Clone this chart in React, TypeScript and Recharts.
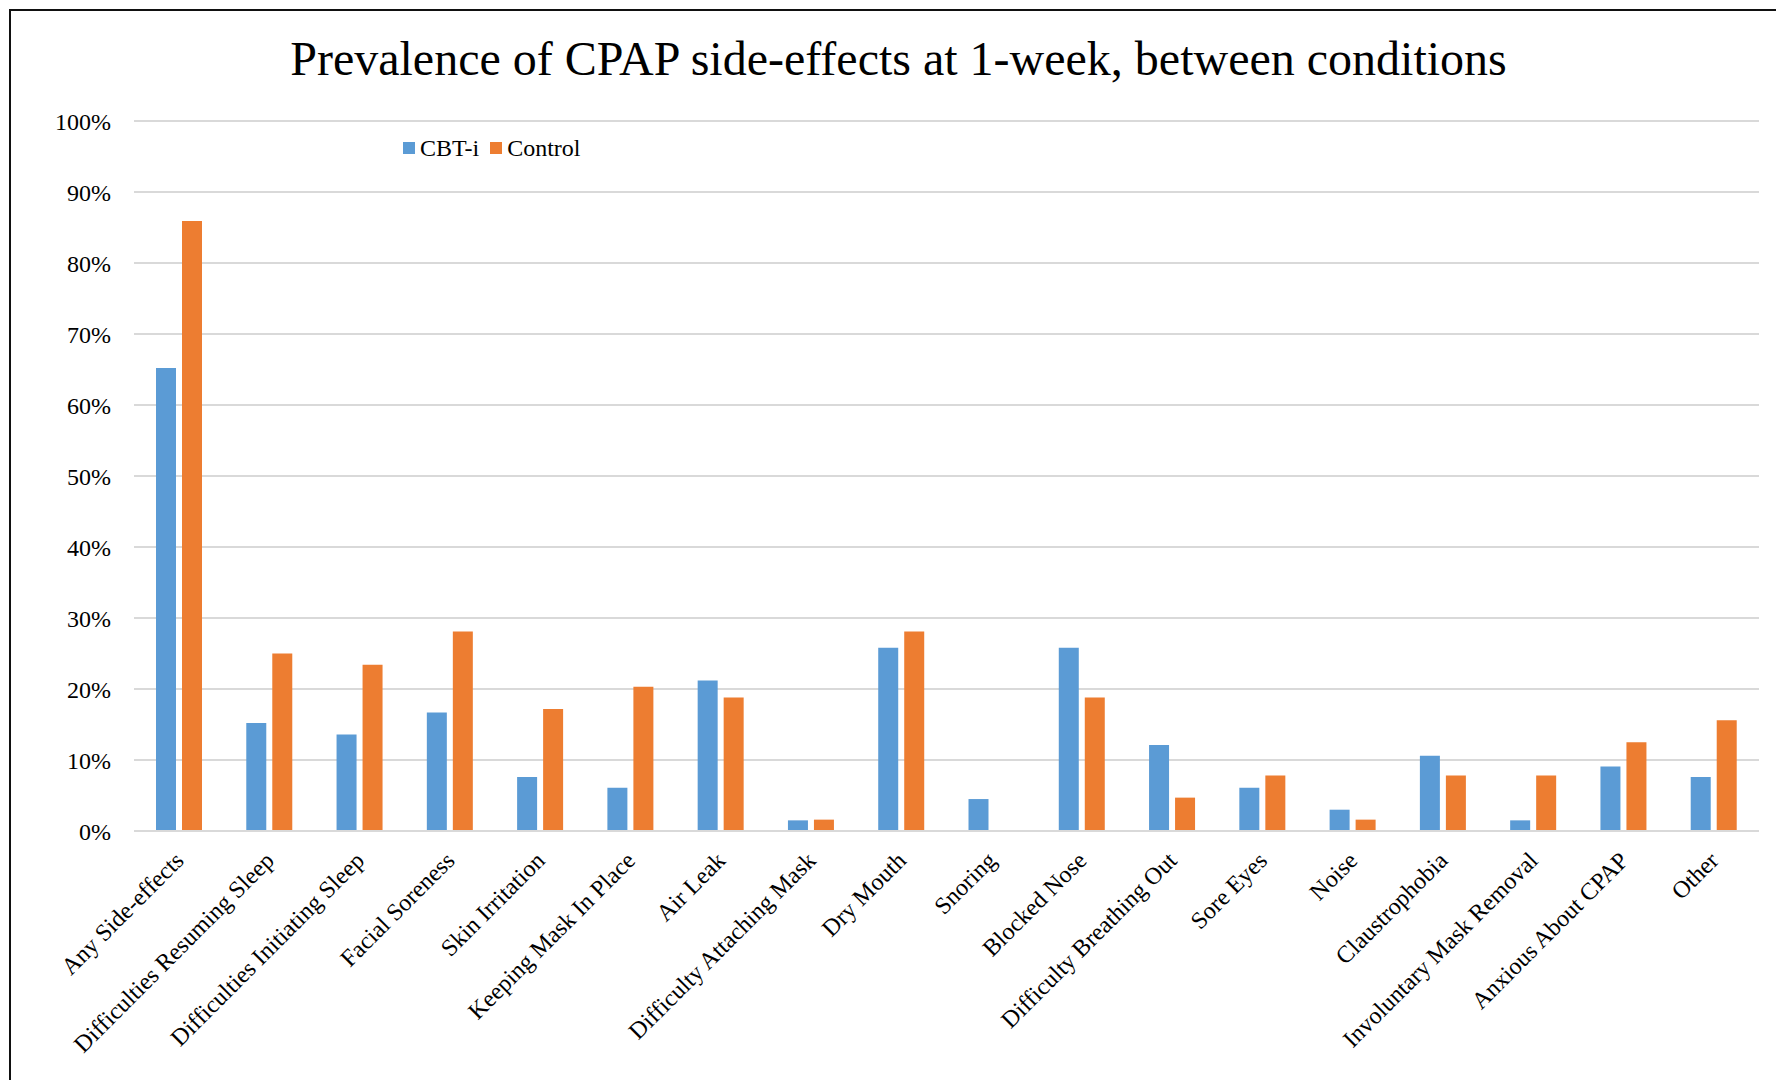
import React from "react";
import { BarChart, Bar, XAxis, YAxis, CartesianGrid, Legend } from "recharts";

const categories = [
  "Any Side-effects",
  "Difficulties Resuming Sleep",
  "Difficulties Initiating Sleep",
  "Facial Soreness",
  "Skin Irritation",
  "Keeping Mask In Place",
  "Air Leak",
  "Difficulty Attaching Mask",
  "Dry Mouth",
  "Snoring",
  "Blocked Nose",
  "Difficulty Breathing Out",
  "Sore Eyes",
  "Noise",
  "Claustrophobia",
  "Involuntary Mask Removal",
  "Anxious About CPAP",
  "Other",
];

// percent of participants reporting each side-effect
const cbtValues = [65.2, 15.2, 13.6, 16.7, 7.6, 6.1, 21.2, 1.5, 25.8, 4.5, 25.8, 12.1, 6.1, 3.0, 10.6, 1.5, 9.1, 7.6];
const controlValues = [85.9, 25.0, 23.4, 28.1, 17.2, 20.3, 18.8, 1.6, 28.1, 0, 18.8, 4.7, 7.8, 1.6, 7.8, 7.8, 12.5, 15.6];

const yTicks = [0, 10, 20, 30, 40, 50, 60, 70, 80, 90, 100];

const seriesNames = { cbt: "CBT-i", control: "Control" };
const colors = { cbt: "#5B9BD5", control: "#ED7D31" };

const data = categories.map((name, i) => ({
  name,
  cbt: cbtValues[i],
  control: controlValues[i],
}));

const FONT = '"Liberation Serif", "Times New Roman", serif';

const CategoryTick = (props: any) => {
  const { x, y, payload } = props;
  return (
    <g transform={`translate(${x},${y + 17})`}>
      <text
        x={0}
        y={0}
        dy="0.355em"
        textAnchor="end"
        transform="rotate(-45)"
        fontFamily={FONT}
        fontSize={24}
        fill="#000"
      >
        {payload.value}
      </text>
    </g>
  );
};

const LegendContent = (props: any) => {
  const { payload } = props;
  return (
    <div style={{ display: "flex", alignItems: "center", fontFamily: FONT, fontSize: 24, lineHeight: "24px", color: "#000" }}>
      {payload.map((entry: any) => (
        <div key={entry.value} style={{ display: "flex", alignItems: "center", marginRight: 11 }}>
          <span style={{ display: "inline-block", width: 12, height: 12, background: entry.color, marginRight: 5 }} />
          <span>{entry.value}</span>
        </div>
      ))}
    </div>
  );
};

export default function App() {
  return (
    <div style={{ position: "fixed", left: 0, top: 0, width: 1776, height: 1080, overflow: "hidden", background: "#fff" }}>
      <div
        style={{
          position: "absolute",
          left: 9,
          top: 9,
          width: 1800,
          height: 1100,
          borderLeft: "2px solid #111",
          borderTop: "2px solid #111",
        }}
      />
      <div
        style={{
          position: "absolute",
          left: 0,
          top: 35,
          width: 1797,
          textAlign: "center",
          fontFamily: FONT,
          fontSize: 48,
          lineHeight: "48px",
          color: "#000",
          whiteSpace: "nowrap",
        }}
      >
        Prevalence of CPAP side-effects at 1-week, between conditions
      </div>
      <div style={{ position: "absolute", left: 0, top: 0 }}>
        <BarChart
          width={1776}
          height={1080}
          data={data}
          margin={{ top: 121, right: 17, bottom: 0, left: 0 }}
          barSize={20}
          barGap={6}
        >
          <CartesianGrid vertical={false} stroke="#D9D9D9" strokeWidth={2} />
          <XAxis
            dataKey="name"
            interval={0}
            height={249}
            tickLine={false}
            axisLine={{ stroke: "#D9D9D9", strokeWidth: 2 }}
            tick={<CategoryTick />}
          />
          <YAxis
            width={134}
            domain={[0, 100]}
            ticks={yTicks}
            tickFormatter={(v: number) => `${v}%`}
            axisLine={false}
            tickLine={false}
            tickMargin={17}
            tick={{ fontFamily: FONT, fontSize: 24, fill: "#000" }}
          />
          <Legend
            layout="horizontal"
            verticalAlign="middle"
            align="center"
            wrapperStyle={{ top: 136, left: 403, width: "auto" }}
            content={<LegendContent />}
          />
          <Bar dataKey="cbt" name={seriesNames.cbt} fill={colors.cbt} isAnimationActive={false} />
          <Bar dataKey="control" name={seriesNames.control} fill={colors.control} isAnimationActive={false} />
        </BarChart>
      </div>
    </div>
  );
}
